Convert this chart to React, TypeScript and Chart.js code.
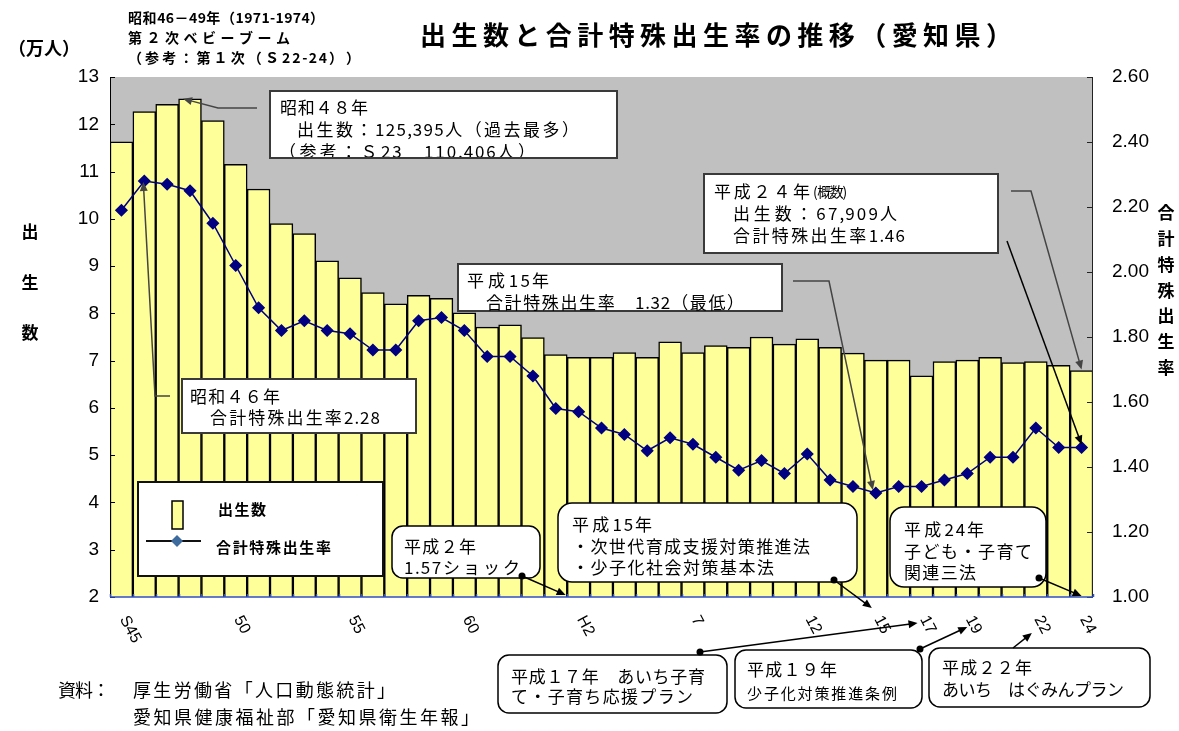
import React, { useEffect, useRef } from 'react';
import { Chart, registerables } from 'chart.js';

Chart.register(...registerables);

// ---- data ----
const categories = [
  '1970', '1971', '1972', '1973', '1974', '1975', '1976', '1977', '1978', '1979',
  '1980', '1981', '1982', '1983', '1984', '1985', '1986', '1987', '1988', '1989',
  '1990', '1991', '1992', '1993', '1994', '1995', '1996', '1997', '1998', '1999',
  '2000', '2001', '2002', '2003', '2004', '2005', '2006', '2007', '2008', '2009',
  '2010', '2011', '2012',
];

const tickLabels = [
  'S45', '', '', '', '', '50', '', '', '', '',
  '55', '', '', '', '', '60', '', '', '', '',
  'H2', '', '', '', '', '7', '', '', '', '',
  '12', '', '', '15', '', '17', '', '19', '', '',
  '22', '', '24',
];

// 出生数 (万人)
const births = [
  11.63, 12.27, 12.42, 12.54, 12.08, 11.15, 10.63, 9.9, 9.69, 9.11,
  8.75, 8.44, 8.2, 8.38, 8.32, 8.01, 7.71, 7.76, 7.49, 7.13,
  7.07, 7.07, 7.17, 7.07, 7.4, 7.17, 7.32, 7.28, 7.5, 7.35,
  7.46, 7.28, 7.16, 7.01, 7.01, 6.68, 6.98, 7.01, 7.07, 6.96,
  6.98, 6.9, 6.79,
];

// 合計特殊出生率
const tfr = [
  2.19, 2.28, 2.27, 2.25, 2.15, 2.02, 1.89, 1.82, 1.85, 1.82,
  1.81, 1.76, 1.76, 1.85, 1.86, 1.82, 1.74, 1.74, 1.68, 1.58,
  1.57, 1.52, 1.5, 1.45, 1.49, 1.47, 1.43, 1.39, 1.42, 1.38,
  1.44, 1.36, 1.34, 1.32, 1.34, 1.34, 1.36, 1.38, 1.43, 1.43,
  1.52, 1.46, 1.46,
];

const leftTicks = { min: 2, max: 13, step: 1 };
const rightTicks = { min: 1, max: 2.6, step: 0.2 };

const JP = '"Noto Sans CJK JP", "Noto Sans", sans-serif';
const NUM = '"Liberation Sans", Arial, sans-serif';

type TOpt = {
  size: number;
  weight?: string | number;
  width?: number;
  align?: 'left' | 'center';
  family?: string;
  color?: string;
};

// draws text, spreading the glyphs (gap proportional to glyph width) to reach a target width
function txt(ctx: CanvasRenderingContext2D, s: string, x: number, y: number, o: TOpt) {
  ctx.save();
  ctx.font = `${o.weight ?? 'normal'} ${o.size}px ${o.family ?? JP}`;
  ctx.fillStyle = o.color ?? '#000';
  ctx.textBaseline = 'middle';
  ctx.textAlign = 'left';
  const chars = Array.from(s);
  const widths = chars.map((c) => ctx.measureText(c).width);
  const natural = widths.reduce((p, c) => p + c, 0);
  let k = 0;
  if (o.width && chars.length > 1) {
    const inner = natural - widths[widths.length - 1];
    k = Math.max(-0.1, (o.width - natural) / Math.max(1, inner));
  }
  const total = natural + k * (natural - widths[widths.length - 1]);
  let cx = o.align === 'center' ? x - total / 2 : x;
  chars.forEach((c, i) => {
    ctx.fillText(c, cx, y);
    cx += widths[i] * (1 + k);
  });
  ctx.restore();
}

function rrect(ctx: CanvasRenderingContext2D, x1: number, y1: number, x2: number, y2: number, r: number) {
  ctx.beginPath();
  ctx.moveTo(x1 + r, y1);
  ctx.lineTo(x2 - r, y1);
  ctx.arcTo(x2, y1, x2, y1 + r, r);
  ctx.lineTo(x2, y2 - r);
  ctx.arcTo(x2, y2, x2 - r, y2, r);
  ctx.lineTo(x1 + r, y2);
  ctx.arcTo(x1, y2, x1, y2 - r, r);
  ctx.lineTo(x1, y1 + r);
  ctx.arcTo(x1, y1, x1 + r, y1, r);
  ctx.closePath();
}

function box(ctx: CanvasRenderingContext2D, x1: number, y1: number, x2: number, y2: number, radius = 0, lw = 2, color = '#3a3a3a') {
  ctx.save();
  if (radius > 0) rrect(ctx, x1, y1, x2, y2, radius);
  else {
    ctx.beginPath();
    ctx.rect(x1, y1, x2 - x1, y2 - y1);
  }
  ctx.fillStyle = '#fff';
  ctx.fill();
  ctx.lineWidth = lw;
  ctx.strokeStyle = color;
  ctx.stroke();
  ctx.restore();
}

function arrow(ctx: CanvasRenderingContext2D, pts: number[][], color = '#000', lw = 1.5, dot = false, head = 9) {
  ctx.save();
  ctx.strokeStyle = color;
  ctx.fillStyle = color;
  ctx.lineWidth = lw;
  const n = pts.length;
  const [tx, ty] = pts[n - 1];
  const [px, py] = pts[n - 2];
  const ang = Math.atan2(ty - py, tx - px);
  ctx.beginPath();
  ctx.moveTo(pts[0][0], pts[0][1]);
  for (let i = 1; i < n - 1; i++) ctx.lineTo(pts[i][0], pts[i][1]);
  ctx.lineTo(tx - Math.cos(ang) * head * 0.6, ty - Math.sin(ang) * head * 0.6);
  ctx.stroke();
  ctx.beginPath();
  ctx.moveTo(tx, ty);
  ctx.lineTo(tx - head * Math.cos(ang) + 4 * Math.sin(ang), ty - head * Math.sin(ang) - 4 * Math.cos(ang));
  ctx.lineTo(tx - head * Math.cos(ang) - 4 * Math.sin(ang), ty - head * Math.sin(ang) + 4 * Math.cos(ang));
  ctx.closePath();
  ctx.fill();
  if (dot) {
    ctx.beginPath();
    ctx.arc(pts[0][0], pts[0][1], 3.5, 0, Math.PI * 2);
    ctx.fill();
  }
  ctx.restore();
}

const decor = {
  id: 'decor',
  beforeDraw(chart: any) {
    const { ctx, chartArea: a } = chart;
    ctx.save();
    ctx.fillStyle = '#C0C0C0';
    ctx.fillRect(a.left, a.top, a.right - a.left, a.bottom - a.top);
    ctx.restore();
  },
  afterDraw(chart: any) {
    const ctx: CanvasRenderingContext2D = chart.ctx;
    const a = chart.chartArea;
    const xs = chart.scales.x;
    const yl = chart.scales.y;
    const yr = chart.scales.y1;
    const X = (i: number) => xs.getPixelForValue(i);
    const YB = (v: number) => yl.getPixelForValue(v);
    const YR = (v: number) => yr.getPixelForValue(v);
    const half = (X(1) - X(0)) / 2;

    // axes
    ctx.save();
    ctx.strokeStyle = '#000';
    ctx.lineWidth = 1;
    ctx.beginPath();
    ctx.moveTo(a.left + 0.5, a.top);
    ctx.lineTo(a.left + 0.5, a.bottom);
    yl.ticks.forEach((t: any) => {
      const y = Math.round(YB(t.value)) + 0.5;
      ctx.moveTo(a.left, y);
      ctx.lineTo(a.left + 5, y);
    });
    ctx.stroke();
    ctx.strokeStyle = '#222';
    ctx.beginPath();
    ctx.moveTo(a.right - 0.5, a.top);
    ctx.lineTo(a.right - 0.5, a.bottom);
    yr.ticks.forEach((t: any) => {
      const y = Math.round(YR(t.value)) + 0.5;
      ctx.moveTo(a.right, y);
      ctx.lineTo(a.right - 6, y);
    });
    ctx.stroke();
    ctx.strokeStyle = '#3050C8';
    ctx.lineWidth = 1.5;
    ctx.beginPath();
    ctx.moveTo(a.left, a.bottom);
    ctx.lineTo(a.right, a.bottom);
    for (let i = 0; i <= categories.length; i++) {
      const x = Math.round(X(i) - half) + 0.5;
      ctx.moveTo(x, a.bottom);
      ctx.lineTo(x, a.bottom - 3);
    }
    ctx.stroke();
    ctx.restore();

    // rotated x tick labels
    tickLabels.forEach((lab, i) => {
      if (!lab) return;
      ctx.save();
      ctx.translate(X(i) + 2, a.bottom + 20);
      ctx.rotate((62 * Math.PI) / 180);
      ctx.font = `16px ${NUM}`;
      ctx.fillStyle = '#000';
      ctx.textAlign = 'left';
      ctx.textBaseline = 'middle';
      ctx.fillText(lab, 0, 0);
      ctx.restore();
    });

    // titles & outside texts
    txt(ctx, '出生数と合計特殊出生率の推移（愛知県）', 420, 35, { size: 26, weight: 'bold', width: 592 });
    txt(ctx, '昭和46－49年（1971-1974）', 128, 18, { size: 14, weight: 'bold', width: 196 });
    txt(ctx, '第２次ベビーブーム', 128, 38, { size: 14, weight: 'bold', width: 162 });
    txt(ctx, '（参考：第１次（Ｓ22-24））', 128, 58, { size: 14, weight: 'bold', width: 232 });
    txt(ctx, '（万人）', 8, 48, { size: 18, weight: 'bold', width: 72 });
    ['出', '生', '数'].forEach((c, i) => txt(ctx, c, 30, 232 + i * 50.5, { size: 17, weight: 'bold', align: 'center' }));
    Array.from('合計特殊出生率').forEach((c, i) =>
      txt(ctx, c, 1166, 213 + i * 25.7, { size: 17, weight: 'bold', align: 'center' })
    );
    txt(ctx, '資料：', 58, 690, { size: 18, width: 52 });
    txt(ctx, '厚生労働省「人口動態統計」', 133, 690, { size: 18, width: 262 });
    txt(ctx, '愛知県健康福祉部「愛知県衛生年報」', 133, 717, { size: 18, width: 346 });

    // legend
    box(ctx, 138, 482, 383, 576, 0, 2, '#111');
    ctx.save();
    ctx.fillStyle = '#FFFF99';
    ctx.strokeStyle = '#000';
    ctx.lineWidth = 1.5;
    ctx.fillRect(172, 501, 11, 28);
    ctx.strokeRect(172, 501, 11, 28);
    ctx.beginPath();
    ctx.moveTo(146, 541);
    ctx.lineTo(201, 541);
    ctx.strokeStyle = '#111';
    ctx.lineWidth = 2;
    ctx.stroke();
    ctx.beginPath();
    ctx.moveTo(177, 535);
    ctx.lineTo(183, 541);
    ctx.lineTo(177, 547);
    ctx.lineTo(171, 541);
    ctx.closePath();
    ctx.fillStyle = '#3E6B9E';
    ctx.fill();
    ctx.restore();
    txt(ctx, '出生数', 218, 509, { size: 15, weight: 'bold', width: 48 });
    txt(ctx, '合計特殊出生率', 216, 547, { size: 15, weight: 'bold', width: 115 });

    // leader lines to data
    arrow(ctx, [[257, 108], [218, 108], [X(3) - 7, YB(births[3])]], '#444', 1.5);
    arrow(ctx, [[170, 396], [155, 396], [X(1) - 1, YR(tfr[1]) + 1]], '#444', 1.5);
    arrow(ctx, [[793, 281], [829, 281], [X(33) - 3, YR(tfr[33]) - 3]], '#444', 1.5);
    arrow(ctx, [[1011, 191], [1031, 191], [X(42), YB(births[42]) - 1]], '#444', 1.5);
    arrow(ctx, [[1007, 241], [X(42), YR(tfr[42]) - 3]], '#000', 1.5);

    // boxes
    box(ctx, 270, 91, 617, 158);
    ctx.save();
    ctx.beginPath();
    ctx.rect(271, 92, 345, 65);
    ctx.clip();
    txt(ctx, '昭和４８年', 280, 108, { size: 17, width: 88 });
    txt(ctx, '出生数：125,395人（過去最多）', 297, 130, { size: 17, width: 282 });
    txt(ctx, '（参考：Ｓ23　110,406人）', 279, 152, { size: 17, width: 256 });
    ctx.restore();

    box(ctx, 182, 379, 416, 433);
    txt(ctx, '昭和４６年', 190, 397, { size: 17, width: 90 });
    txt(ctx, '合計特殊出生率2.28', 210, 418, { size: 17, width: 170 });

    box(ctx, 458, 264, 782, 311);
    txt(ctx, '平成15年', 467, 281, { size: 17, width: 82 });
    txt(ctx, '合計特殊出生率　1.32（最低）', 486, 303, { size: 17, width: 258 });

    box(ctx, 704, 174, 998, 253);
    txt(ctx, '平成２４年', 714, 192, { size: 17, width: 96 });
    txt(ctx, '(概数)', 813, 192, { size: 14, width: 34 });
    txt(ctx, '出生数：67,909人', 733, 214, { size: 17, width: 164 });
    txt(ctx, '合計特殊出生率1.46', 733, 236, { size: 17, width: 172 });

    // event boxes (rounded)
    box(ctx, 392, 526, 540, 578, 11, 1.5, '#000');
    txt(ctx, '平成２年', 404, 547, { size: 17, width: 72 });
    txt(ctx, '1.57ショック', 404, 568, { size: 17, width: 116 });

    box(ctx, 558, 503, 857, 582, 14, 1.5, '#000');
    txt(ctx, '平成15年', 572, 525, { size: 17, width: 80 });
    txt(ctx, '・次世代育成支援対策推進法', 572, 547, { size: 17, width: 238 });
    txt(ctx, '・少子化社会対策基本法', 572, 568, { size: 17, width: 202 });

    box(ctx, 890, 507, 1046, 587, 14, 1.5, '#000');
    txt(ctx, '平成24年', 904, 530, { size: 17, width: 80 });
    txt(ctx, '子ども・子育て', 904, 552, { size: 17, width: 128 });
    txt(ctx, '関連三法', 904, 573, { size: 17, width: 72 });

    box(ctx, 498, 655, 727, 713, 11, 1.5, '#000');
    txt(ctx, '平成１７年　あいち子育', 511, 677, { size: 17, width: 194 });
    txt(ctx, 'て・子育ち応援プラン', 511, 697, { size: 17, width: 182 });

    box(ctx, 735, 650, 922, 708, 11, 1.5, '#000');
    txt(ctx, '平成１９年', 747, 670, { size: 17, width: 90 });
    txt(ctx, '少子化対策推進条例', 747, 693, { size: 15, width: 150 });

    box(ctx, 929, 648, 1150, 707, 11, 1.5, '#000');
    txt(ctx, '平成２２年', 942, 668, { size: 17, width: 90 });
    txt(ctx, 'あいち　はぐみんプラン', 942, 690, { size: 17, width: 182 });

    // event arrows
    arrow(ctx, [[522, 576], [X(20) - 13, a.bottom - 2]], '#000', 1.5, true);
    arrow(ctx, [[834, 580], [X(33) - 4, a.bottom + 11]], '#000', 1.5, true);
    arrow(ctx, [[1039, 578], [X(42), a.bottom - 1]], '#000', 1.5, true);
    arrow(ctx, [[700, 652], [X(35) - 4, a.bottom + 26]], '#000', 1.5, true);
    arrow(ctx, [[920, 649], [X(37), a.bottom + 30]], '#000', 1.5, true);
    arrow(ctx, [[1013, 648], [X(40) - 4, a.bottom + 36]], '#000', 1.5, false);
  },
};

export default function App() {
  const ref = useRef<HTMLCanvasElement | null>(null);

  useEffect(() => {
    if (!ref.current) return;
    const chart = new Chart(ref.current, {
      type: 'bar',
      data: {
        labels: categories,
        datasets: [
          {
            type: 'line',
            label: '合計特殊出生率',
            data: tfr,
            yAxisID: 'y1',
            borderColor: '#000080',
            backgroundColor: '#000080',
            borderWidth: 1.5,
            pointStyle: 'rectRot',
            pointRadius: 5.5,
            pointBackgroundColor: '#000080',
            pointBorderColor: '#000080',
            tension: 0,
            order: 1,
          } as any,
          {
            type: 'bar',
            label: '出生数',
            data: births,
            yAxisID: 'y',
            backgroundColor: '#FFFF99',
            borderColor: '#000',
            borderWidth: 1.5,
            categoryPercentage: 1,
            barPercentage: 1,
            order: 2,
          } as any,
        ],
      },
      options: {
        animation: false,
        responsive: false,
        devicePixelRatio: 1,
        layout: { padding: { top: 77, left: 0, right: 0, bottom: 0 } },
        plugins: {
          legend: { display: false },
          tooltip: { enabled: false },
        },
        scales: {
          x: {
            type: 'category',
            offset: true,
            grid: { display: false, drawTicks: false },
            border: { display: false },
            ticks: { display: false },
            afterFit: (s: any) => {
              s.height = 134;
            },
          },
          y: {
            position: 'left',
            min: leftTicks.min,
            max: leftTicks.max,
            grid: { display: false, drawTicks: false },
            border: { display: false },
            ticks: {
              stepSize: leftTicks.step,
              color: '#000',
              padding: 11,
              font: { family: NUM, size: 19 },
            },
            afterFit: (s: any) => {
              s.width = 110;
            },
          },
          y1: {
            position: 'right',
            min: rightTicks.min,
            max: rightTicks.max,
            grid: { display: false, drawTicks: false, drawOnChartArea: false },
            border: { display: false },
            ticks: {
              stepSize: rightTicks.step,
              color: '#000',
              padding: 19,
              font: { family: NUM, size: 19 },
              callback: (v: any) => Number(v).toFixed(2),
            },
            afterFit: (s: any) => {
              s.width = 86;
            },
          },
        },
      },
      plugins: [decor],
    });
    return () => chart.destroy();
  }, []);

  return (
    <div style={{ position: 'fixed', left: 0, top: 0, width: 1179, height: 731, background: '#fff' }}>
      <canvas ref={ref} width={1179} height={731} style={{ display: 'block' }} />
    </div>
  );
}
